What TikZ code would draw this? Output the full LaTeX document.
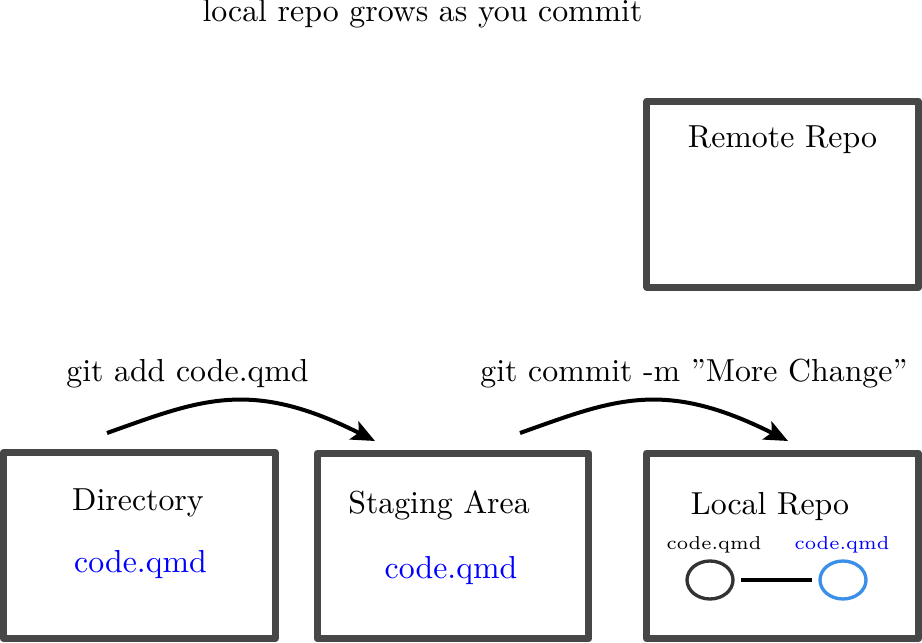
\documentclass[tikz,border=0pt]{standalone}
\usepackage{tikz}
\definecolor{boxgray}{RGB}{71,71,71}
\definecolor{newblue}{RGB}{59,143,232}
\colorlet{filecolor}{blue}
\usetikzlibrary{shapes.geometric}
\usetikzlibrary{arrows.meta}
\tikzset{
	repo/.style={rectangle,draw=boxgray,line width=2.1pt,line join=round,inner sep=0pt,minimum width=81.5pt,minimum height=55.7pt},
	labl/.style={anchor=base,inner sep=0pt},
	fname/.style={anchor=base,inner sep=0pt,text=filecolor},
	tiny/.style={font=\fontsize{5.6pt}{7pt}\selectfont},
	blob/.style={ellipse,draw=black!80,line width=1pt,inner sep=0pt,minimum width=13.8pt,minimum height=11.4pt},
	link/.style={line width=1pt,shorten >=1.8pt,shorten <=1.8pt},
	push/.style={line width=1.2pt,->},
	>={Stealth[length=7pt,width=6pt,inset=1.5pt]},
	}

\begin{document}
\begin{tikzpicture}[x=0.3pt,y=-0.3pt,font=\fontsize{9.55pt}{11pt}\selectfont]
 \useasboundingbox (0,0) rectangle (922,643);

\node (title) at (422.5,22) [labl] {local repo grows as you commit};
  \foreach \n/\x/\y in {dir/139.25/545.5,stage/453/546,local/782.5/546,remote/782.75/194.25}
  \node[repo] (\n) at (\x,\y) {};

\node (remotel) at (782.5,148) [labl] {Remote Repo};
\node (dirl) at (138,510) [labl] {Directory};
\node (dirf) at (140.5,572) [fname] {code.qmd};
\node (stagel) at (439,513) [labl] {Staging Area};
\node (stagef) at (451,578) [fname] {code.qmd};
\node (locall) at (770,514) [labl] {Local Repo};

\node (addl) at (187.5,381) [labl] {git add code.qmd};
\node (commitl) at (694,381) [labl] {git commit -m ”More Change”};

\node (v1) at (710,580) [blob] {};
\node (v2) at (843,580) [blob,draw=newblue] {};
\node (v1l) at (714,549) [labl,tiny] {code.qmd};
\node (v2l) at (842,549) [fname,tiny] {code.qmd};
 \draw [link] (v1)--(v2);

\coordinate (a1) at (107,433);
\coordinate (a2) at (375,441);
\coordinate (b1) at (520,433);
\coordinate (b2) at (788,441);
 \draw [push] (a1) .. controls (200,400) and (250,378) .. (a2);
 \draw [push] (b1) .. controls (613,400) and (663,378) .. (b2);
\end{tikzpicture}
\end{document}
